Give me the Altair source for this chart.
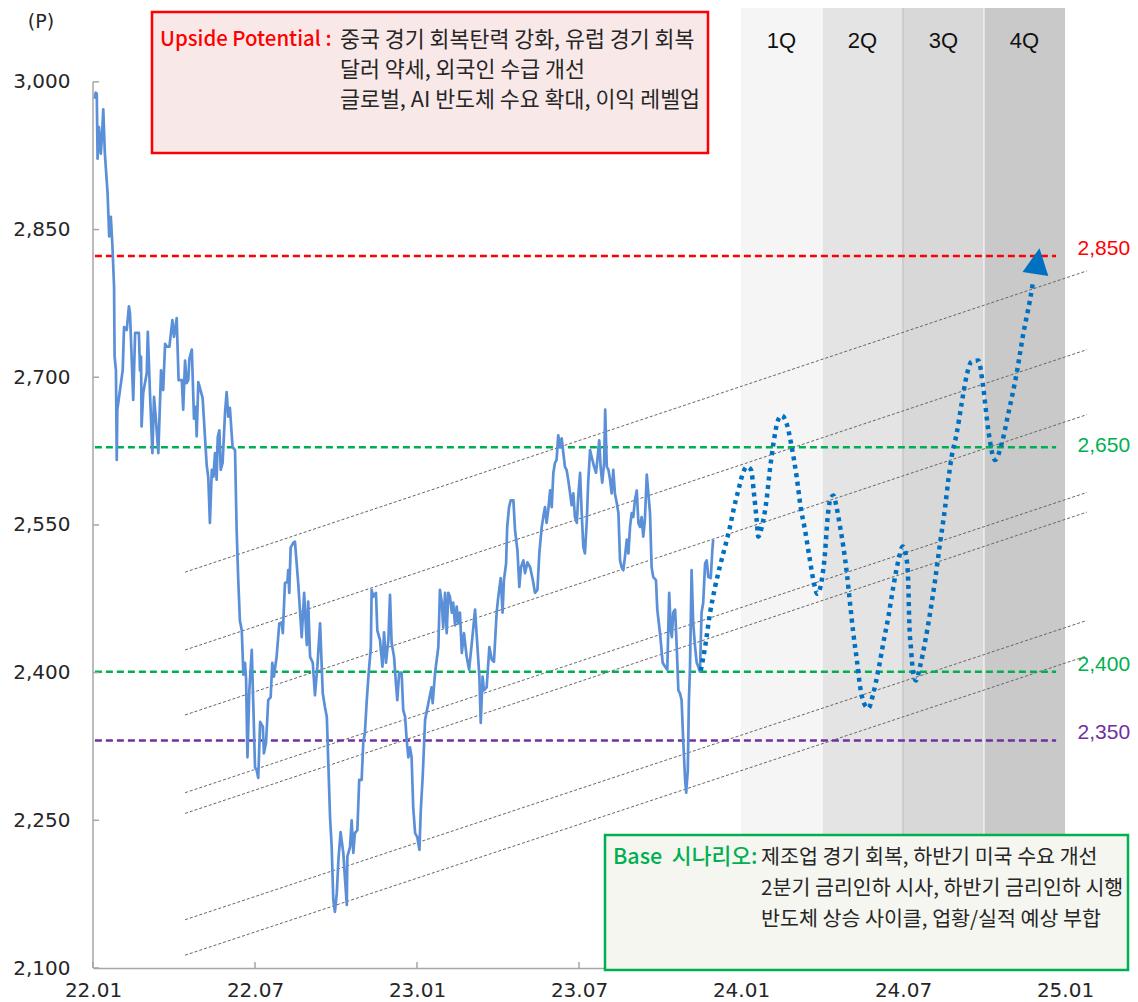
import altair as alt
import pandas as pd

# ---------------- data ----------------
x_tick_values = [0, 6, 12, 18, 24, 30, 36]          # months since 2022-01
x_tick_labels = ["22.01", "22.07", "23.01", "23.07", "24.01", "24.07", "25.01"]
y_ticks = [2100, 2250, 2400, 2550, 2700, 2850, 3000]

kospi_m = [
    0.05, 0.10, 0.14, 0.17, 0.22, 0.29, 0.33, 0.38, 0.44, 0.54,
    0.60, 0.66, 0.72, 0.78, 0.80, 0.85, 0.88, 0.90, 1.10, 1.15,
    1.25, 1.33, 1.37, 1.49, 1.56, 1.70, 1.74, 1.78, 1.80, 1.86,
    1.99, 2.03, 2.11, 2.20, 2.26, 2.33, 2.42, 2.52, 2.60, 2.67,
    2.73, 2.83, 2.94, 3.00, 3.10, 3.17, 3.29, 3.34, 3.41, 3.47,
    3.53, 3.57, 3.66, 3.74, 3.80, 3.84, 3.90, 4.06, 4.21, 4.27,
    4.33, 4.40, 4.46, 4.52, 4.58, 4.62, 4.68, 4.73, 4.80, 4.89,
    4.95, 5.01, 5.07, 5.17, 5.26, 5.32, 5.38, 5.44, 5.51, 5.57,
    5.63, 5.67, 5.72, 5.79, 5.88, 5.94, 6.00, 6.06, 6.12, 6.19,
    6.29, 6.33, 6.41, 6.49, 6.58, 6.64, 6.70, 6.80, 6.90, 6.99,
    7.03, 7.11, 7.20, 7.23, 7.27, 7.32, 7.42, 7.48, 7.60, 7.73,
    7.82, 7.92, 7.97, 8.04, 8.14, 8.22, 8.31, 8.41, 8.51, 8.59,
    8.66, 8.72, 8.78, 8.84, 8.90, 8.96, 9.03, 9.09, 9.17, 9.27,
    9.33, 9.40, 9.42, 9.52, 9.58, 9.64, 9.70, 9.79, 9.86, 9.95,
    10.01, 10.07, 10.14, 10.20, 10.29, 10.32, 10.38, 10.48, 10.53, 10.63,
    10.72, 10.78, 10.85, 10.94, 11.00, 11.06, 11.15, 11.22, 11.27, 11.34,
    11.43, 11.49, 11.56, 11.62, 11.68, 11.74, 11.80, 11.86, 11.93, 12.01,
    12.09, 12.14, 12.21, 12.30, 12.42, 12.54, 12.58, 12.67, 12.79, 12.85,
    12.92, 12.97, 13.04, 13.10, 13.16, 13.22, 13.29, 13.34, 13.41, 13.47,
    13.53, 13.59, 13.66, 13.74, 13.84, 13.93, 14.03, 14.15, 14.23, 14.31,
    14.36, 14.43, 14.48, 14.58, 14.68, 14.77, 14.85, 14.95, 15.01, 15.10,
    15.17, 15.22, 15.30, 15.34, 15.41, 15.47, 15.57, 15.63, 15.72, 15.79,
    15.85, 15.94, 16.00, 16.09, 16.19, 16.29, 16.37, 16.46, 16.53, 16.62,
    16.70, 16.74, 16.80, 16.86, 16.93, 16.99, 17.05, 17.11, 17.17, 17.23,
    17.30, 17.36, 17.42, 17.48, 17.54, 17.60, 17.67, 17.73, 17.79, 17.85,
    17.92, 17.97, 18.04, 18.10, 18.16, 18.22, 18.29, 18.34, 18.41, 18.47,
    18.56, 18.63, 18.68, 18.75, 18.80, 18.86, 18.93, 18.97, 19.03, 19.09,
    19.15, 19.21, 19.27, 19.33, 19.40, 19.46, 19.52, 19.58, 19.64, 19.70,
    19.77, 19.83, 19.89, 19.95, 20.01, 20.07, 20.14, 20.20, 20.26, 20.32,
    20.38, 20.44, 20.51, 20.57, 20.63, 20.69, 20.75, 20.85, 20.90, 21.00,
    21.10, 21.19, 21.27, 21.34, 21.40, 21.44, 21.49, 21.56, 21.62, 21.68,
    21.74, 21.80, 21.86, 21.93, 21.97, 22.03, 22.07, 22.11, 22.17, 22.23,
    22.30, 22.36, 22.42, 22.48, 22.54, 22.60, 22.67, 22.73, 22.79, 22.88,
    22.94, 22.97,
]
kospi_v = [
    2983, 2989, 2988, 2922, 2954, 2927, 2944, 2972, 2927, 2887,
    2843, 2863, 2833, 2792, 2721, 2707, 2616, 2667, 2707, 2751,
    2748, 2772, 2765, 2677, 2745, 2745, 2707, 2721, 2650, 2684,
    2704, 2746, 2684, 2623, 2680, 2657, 2623, 2707, 2687, 2734,
    2731, 2731, 2758, 2741, 2760, 2697, 2697, 2667, 2717, 2694,
    2697, 2719, 2728, 2658, 2670, 2640, 2695, 2679, 2611, 2598,
    2552, 2606, 2599, 2623, 2596, 2639, 2646, 2606, 2613, 2664,
    2685, 2660, 2669, 2629, 2626, 2545, 2494, 2453, 2443, 2398,
    2410, 2393, 2314, 2382, 2423, 2365, 2304, 2301, 2293, 2350,
    2345, 2318, 2329, 2372, 2375, 2410, 2396, 2416, 2450, 2451,
    2440, 2491, 2492, 2504, 2481, 2527, 2532, 2533, 2491, 2436,
    2481, 2428, 2472, 2416, 2410, 2377, 2406, 2450, 2379, 2365,
    2355, 2304, 2253, 2223, 2169, 2157, 2176, 2210, 2238, 2217,
    2192, 2164, 2213, 2223, 2250, 2217, 2237, 2240, 2291, 2291,
    2329, 2339, 2372, 2396, 2426, 2484, 2477, 2481, 2443, 2433,
    2406, 2441, 2410, 2433, 2479, 2430, 2416, 2389, 2372, 2400,
    2400, 2362, 2355, 2331, 2314, 2324, 2314, 2263, 2237, 2233,
    2220, 2260, 2294, 2352, 2369, 2385, 2369, 2400, 2426, 2484,
    2471, 2446, 2481, 2440, 2481, 2477, 2461, 2471, 2448, 2467,
    2450, 2461, 2420, 2440, 2416, 2403, 2430, 2464, 2430, 2396,
    2349, 2396, 2382, 2385, 2426, 2413, 2411, 2461, 2477, 2496,
    2461, 2494, 2511, 2548, 2568, 2575, 2575, 2545, 2524, 2487,
    2507, 2514, 2501, 2512, 2507, 2494, 2481, 2484, 2521, 2548,
    2562, 2568, 2552, 2565, 2585, 2568, 2603, 2613, 2616, 2641,
    2629, 2638, 2623, 2609, 2606, 2596, 2582, 2570, 2582, 2558,
    2552, 2578, 2603, 2562, 2528, 2521, 2555, 2593, 2626, 2619,
    2609, 2603, 2616, 2636, 2609, 2593, 2613, 2667, 2609, 2606,
    2596, 2582, 2606, 2582, 2572, 2562, 2514, 2507, 2504, 2517,
    2535, 2521, 2548, 2562, 2558, 2575, 2585, 2552, 2548, 2558,
    2538, 2555, 2601, 2582, 2562, 2507, 2497, 2494, 2464, 2440,
    2410, 2406, 2403, 2481, 2443, 2436, 2461, 2464, 2426, 2382,
    2379, 2372, 2331, 2291, 2278, 2301, 2372, 2403, 2504, 2450,
    2426, 2410, 2406, 2401, 2461, 2471, 2511, 2514, 2497, 2496,
    2525, 2535,
]

forecast_m = [
    22.51, 22.67, 22.85, 23.04, 23.22, 23.41, 23.59, 23.72, 23.90, 24.09,
    24.21, 24.37, 24.48, 24.58, 24.64, 24.77, 24.93, 25.07, 25.22, 25.38,
    25.51, 25.69, 25.88, 26.06, 26.21, 26.37, 26.53, 26.68, 26.83, 26.99,
    27.11, 27.20, 27.30, 27.42, 27.54, 27.67, 27.79, 27.92, 28.04, 28.16,
    28.29, 28.41, 28.59, 28.72, 28.90, 29.09, 29.27, 29.46, 29.64, 29.83,
    29.99, 30.14, 30.20, 30.23, 30.30, 30.38, 30.48, 30.63, 30.81, 31.00,
    31.19, 31.37, 31.56, 31.68, 31.80, 31.99, 32.17, 32.36, 32.54, 32.79,
    32.97, 33.16, 33.41, 33.66, 33.90, 34.21, 34.46, 34.70, 34.83,
]
forecast_v = [
    2402, 2426, 2460, 2487, 2508, 2528, 2548, 2565, 2585, 2604,
    2609, 2606, 2582, 2555, 2538, 2548, 2572, 2606, 2636, 2657,
    2661, 2653, 2629, 2599, 2568, 2545, 2518, 2494, 2480, 2494,
    2521, 2555, 2575, 2580, 2568, 2548, 2528, 2501, 2470, 2440,
    2413, 2386, 2367, 2364, 2379, 2403, 2430, 2457, 2487, 2514,
    2528, 2514, 2487, 2453, 2423, 2399, 2392, 2406, 2430, 2460,
    2494, 2531, 2568, 2596, 2619, 2643, 2673, 2702, 2716, 2717,
    2690, 2646, 2616, 2633, 2663, 2704, 2745, 2778, 2799,
]
arrow_m = [34.98]
arrow_v = [2818]

level_values = [2823, 2629, 2401, 2331]          # where the dashed lines are drawn
level_labels = ["2,850", "2,650", "2,400", "2,350"]
level_label_values = [2830, 2630, 2408, 2339]
level_colors = ["#FF0000", "#00B050", "#00B050", "#7030A0"]
level_span = [0.07, 35.67]
level_label_m = 37.44

channel_span = [3.41, 36.81]
channel_start = [2502, 2423, 2357, 2278, 2257, 2149, 2113]
channel_end = [2808, 2728, 2662, 2583, 2563, 2453, 2417]

quarter_names = ["1Q", "2Q", "3Q", "4Q"]
quarter_start = [24, 27, 30, 33]
quarter_end = [27, 30, 33, 36]
quarter_colors = ["#F5F5F5", "#E4E4E4", "#D8D8D8", "#C9C9C9"]
quarter_label_value = 3041
separator_m = [27, 30, 33]
separator_colors = ["#FFFFFF", "#BDBDBD", "#FFFFFF"]

upside_title = "Upside Potential :"
upside_lines = ["중국 경기 회복탄력 강화, 유럽 경기 회복",
                "달러 약세, 외국인 수급 개선",
                "글로벌, AI 반도체 수요 확대, 이익 레벨업"]
base_title = "Base \u00a0시나리오:"
base_lines = ["제조업 경기 회복, 하반기 미국 수요 개선",
              "2분기 금리인하 시사, 하반기 금리인하 시행",
              "반도체 상승 사이클, 업황/실적 예상 부합"]

# ---------------- scales / axes ----------------
W, H = 972, 960
Y_TOP = 3075
XS = alt.Scale(domain=[0, 36], nice=False, zero=False)
YS = alt.Scale(domain=[2100, Y_TOP], nice=False, zero=False)
label_expr = "[" + ",".join("'%s'" % s for s in x_tick_labels) + "][round(datum.value/6)]"
AXC = "#A6A6A6"
XAX = alt.Axis(values=x_tick_values, labelExpr=label_expr, tickSize=0, domainColor=AXC,
               domainWidth=1.5, labelFont="DejaVu Sans", labelFontSize=20,
               labelColor="#262626", labelPadding=12, grid=False, labelFlush=False)
YAX = alt.Axis(values=y_ticks, format=",.0f", tickSize=0, domain=False,
               labelFont="DejaVu Sans", labelFontSize=20, labelColor="#262626",
               labelPadding=23, grid=False)


def ex(f):
    return alt.X(f, type="quantitative", scale=XS, axis=XAX, title=None)


def ey(f):
    return alt.Y(f, type="quantitative", scale=YS, axis=YAX, title=None)


one = pd.DataFrame({"a": [0]})

# quarters
qdf = pd.DataFrame({
    "q": quarter_names, "s": quarter_start, "e": quarter_end, "c": quarter_colors,
    "mid": [(a + b) / 2 for a, b in zip(quarter_start, quarter_end)],
    "lv": [quarter_label_value] * 4, "y0": [2100] * 4, "y1": [Y_TOP] * 4,
})
shade = alt.Chart(qdf).mark_rect().encode(
    x=ex("s"), x2="e", y=ey("y0"), y2="y1", color=alt.Color("c:N", scale=None))
sdf = pd.DataFrame({"m": separator_m, "c": separator_colors, "y0": [2100] * 3, "y1": [Y_TOP] * 3})
seps = alt.Chart(sdf).mark_rule(strokeWidth=1).encode(
    x=ex("m"), y=ey("y0"), y2="y1", color=alt.Color("c:N", scale=None))
qlab = alt.Chart(qdf).mark_text(font="Liberation Sans", fontSize=22, color="#111111",
                                baseline="middle").encode(x=ex("mid"), y=ey("lv"), text="q:N")

# channel lines
rows = []
for i, (a, b) in enumerate(zip(channel_start, channel_end)):
    rows.append({"id": i, "m": channel_span[0], "v": a})
    rows.append({"id": i, "m": channel_span[1], "v": b})
cdf = pd.DataFrame(rows)
channels = alt.Chart(cdf).mark_line(color="#666666", strokeWidth=1, strokeDash=[3, 2]).encode(
    x=ex("m"), y=ey("v"), detail="id:N")

# horizontal levels
ldf = pd.DataFrame({"v": level_values, "lab": level_labels, "lv": level_label_values,
                    "c": level_colors, "m0": [level_span[0]] * 4, "m1": [level_span[1]] * 4,
                    "ml": [level_label_m] * 4})
levels = alt.Chart(ldf).mark_rule(strokeWidth=2.5, strokeDash=[7, 4]).encode(
    x=ex("m0"), x2="m1", y=ey("v"), color=alt.Color("c:N", scale=None))
level_text = alt.Chart(ldf).mark_text(font="Liberation Sans", fontSize=21, baseline="middle").encode(
    x=ex("ml"), y=ey("lv"), text="lab:N", color=alt.Color("c:N", scale=None))

# KOSPI
kdf = pd.DataFrame({"m": kospi_m, "v": kospi_v})
kospi = alt.Chart(kdf).mark_line(color="#5B8FD7", strokeWidth=2.7, strokeJoin="round").encode(
    x=ex("m"), y=ey("v"))

# forecast
fdf = pd.DataFrame({"m": forecast_m, "v": forecast_v})
forecast = alt.Chart(fdf).mark_line(color="#0070C0", strokeWidth=4.5, strokeDash=[4, 4.5],
                                    interpolate="monotone").encode(x=ex("m"), y=ey("v"))
adf = pd.DataFrame({"m": arrow_m, "v": arrow_v})
arrow = alt.Chart(adf).mark_point(shape="M-1,1L0,-1L1,1Z", size=680, filled=True,
                                  color="#0070C0", opacity=1, angle=9).encode(
    x=ex("m"), y=ey("v"))

# axis helpers (inward ticks, y domain only up to 3000)
ytdf = pd.DataFrame({"v": y_ticks})
yticks = alt.Chart(ytdf).mark_rule(color=AXC, strokeWidth=1.5).encode(
    x=alt.value(0), x2=alt.value(6), y=ey("v"))
ydom = alt.Chart(pd.DataFrame({"a": [y_ticks[0]], "b": [y_ticks[-1]]})).mark_rule(
    color=AXC, strokeWidth=1.5).encode(x=alt.value(0), y=ey("a"), y2="b")
xtdf = pd.DataFrame({"m": x_tick_values})
xticks = alt.Chart(xtdf).mark_rule(color=AXC, strokeWidth=1.5).encode(
    x=ex("m"), y=alt.value(H - 6), y2=alt.value(H))

# annotation boxes
box_up = alt.Chart(one).mark_rect(fill="#F8E8E8", stroke="#FF0000", strokeWidth=2.5).encode(
    x=alt.value(59), x2=alt.value(615), y=alt.value(4), y2=alt.value(145))
box_base = alt.Chart(one).mark_rect(fill="#F5F6EF", stroke="#00B050", strokeWidth=2.5).encode(
    x=alt.value(512), x2=alt.value(1035), y=alt.value(827), y2=alt.value(962))

KR = "Noto Sans CJK KR"
texts = [
    alt.Chart(one).mark_text(font=KR, fontSize=20.4, fontWeight=500, color="#FF0000", align="left",
                             baseline="middle").encode(x=alt.value(67), y=alt.value(32),
                                                       text=alt.value(upside_title)),
    alt.Chart(one).mark_text(font=KR, fontSize=21.5, fontWeight=500, color="#00B050", align="left",
                             baseline="middle").encode(x=alt.value(520), y=alt.value(850),
                                                       text=alt.value(base_title)),
    alt.Chart(one).mark_text(font="DejaVu Sans", fontSize=19, color="#262626",
                             baseline="middle").encode(x=alt.value(-52), y=alt.value(14),
                                                       text=alt.value("(P)")),
]
for i, t in enumerate(upside_lines):
    texts.append(alt.Chart(one).mark_text(font=KR, fontSize=21.7, color="#262626", align="left",
                                          baseline="middle").encode(
        x=alt.value(247), y=alt.value(32 + 30 * i), text=alt.value(t)))
for i, t in enumerate(base_lines):
    texts.append(alt.Chart(one).mark_text(font=KR, fontSize=20.6, color="#262626", align="left",
                                          baseline="middle").encode(
        x=alt.value(668), y=alt.value(850 + 31 * i), text=alt.value(t)))

chart = alt.layer(
    shade, seps, qlab, channels, levels, level_text, kospi, forecast, arrow,
    ydom, yticks, xticks, box_up, box_base, *texts
).properties(
    width=W, height=H,
    autosize=alt.AutoSizeParams(type="none"),
    padding={"left": 85, "top": 0, "right": 65, "bottom": 34},
).configure_view(strokeWidth=0)

chart.save("out.html", embed_options={"renderer": "svg", "actions": False})
